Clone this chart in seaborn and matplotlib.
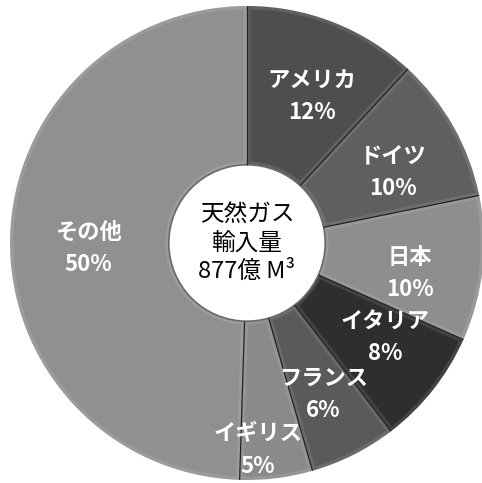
import matplotlib
matplotlib.use("Agg")
import matplotlib.pyplot as plt
import numpy as np
import seaborn as sns
from matplotlib.patches import Wedge

# Natural gas imports by country (share, %)
countries = ["アメリカ", "ドイツ", "日本", "イタリア", "フランス", "イギリス", "その他"]
shares = [12, 10, 10, 8, 6, 5, 50]
wedge_colors = ["#4e4e4e", "#5f5f5f", "#8e8e8e", "#2e2e2e", "#5a5a5a", "#8a8a8a", "#909090"]
center_lines = ["天然ガス", "輸入量", "877億 M³"]

# label block placement: radius (fraction of outer radius) and clockwise nudge in degrees
label_radius = [0.675, 0.685, 0.70, 0.707, 0.715, 0.875, 0.671]
label_shift_deg = [2.6, 3.5, 4.2, -3.8, 0.0, 4.1, -2.7]

sns.set_theme(style="white")
plt.rcParams["font.family"] = ["Noto Sans CJK JP", "DejaVu Sans"]

W, H, DPI = 482, 483, 100
fig = plt.figure(figsize=(W / DPI, H / DPI), dpi=DPI)
ax = fig.add_axes([0, 0, 1, 1])

inner = 0.33
wedges, _ = ax.pie(
    shares,
    colors=wedge_colors,
    startangle=90,
    counterclock=False,
    radius=1.0,
    wedgeprops=dict(width=1 - inner, edgecolor="none", linewidth=0),
)

# faint bevel highlight along each wedge's border
for w in wedges:
    rim = Wedge((0, 0), 1.0, w.theta1, w.theta2, width=1 - inner,
                facecolor="none", edgecolor="white", lw=5, alpha=0.10)
    ax.add_patch(rim)
    rim.set_clip_path(w)

# thin dark separators between neighbouring wedges
for w in wedges:
    a = np.deg2rad(w.theta1)
    ax.plot([inner * np.cos(a), np.cos(a)], [inner * np.sin(a), np.sin(a)],
            color="#222222", lw=0.9, solid_capstyle="butt")

# soft rim around the hole
ax.add_patch(plt.Circle((0, 0), inner, fill=False, edgecolor="#6a6a6a", lw=1.2))

for w, name, val, rf, sh in zip(wedges, countries, shares, label_radius, label_shift_deg):
    mid = np.deg2rad((w.theta1 + w.theta2) / 2 - sh)
    x, y = rf * np.cos(mid), rf * np.sin(mid)
    ax.text(x, y, f"{name}\n{val}%", ha="center", va="center", color="white",
            fontsize=16, fontweight="bold", linespacing=1.5)

ax.text(0, 0, "\n".join(center_lines), ha="center", va="center", color="black",
        fontsize=17, linespacing=1.3)

cx, cy, R = 247, 243, 237  # center and outer radius in pixels
ax.set_xlim(-cx / R, (W - cx) / R)
ax.set_ylim(-(H - cy) / R, cy / R)
ax.set_aspect("equal", adjustable="box")
ax.axis("off")

fig.savefig("out.png", dpi=DPI, facecolor="white")
